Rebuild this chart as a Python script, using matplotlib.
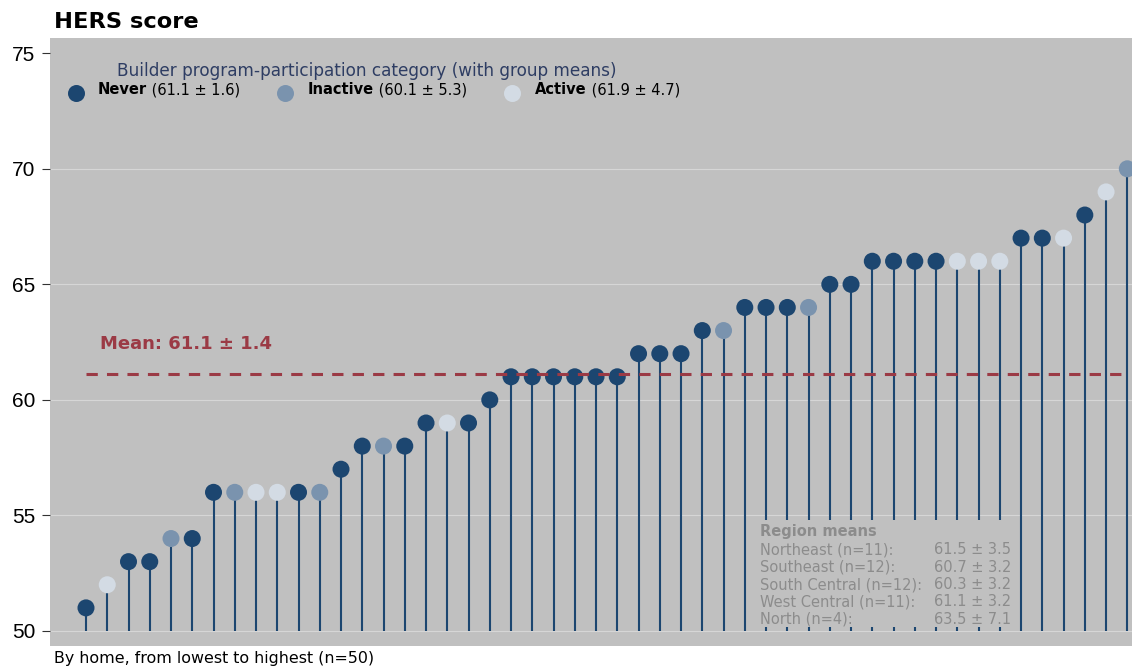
import numpy as np
import matplotlib
matplotlib.use('Agg')
import matplotlib.pyplot as plt
from matplotlib.patches import Rectangle

plt.rcParams['font.family'] = ['DejaVu Sans']

# HERS score per home, sorted low to high, with builder participation category
hers = [51, 52, 53, 53, 54, 54, 56, 56, 56, 56,
        56, 56, 57, 58, 58, 58, 59, 59, 59, 60,
        61, 61, 61, 61, 61, 61, 62, 62, 62, 63,
        63, 64, 64, 64, 64, 65, 65, 66, 66, 66,
        66, 66, 66, 66, 67, 67, 67, 68, 69, 70]
category = ['Never', 'Active', 'Never', 'Never', 'Inactive', 'Never', 'Never', 'Inactive', 'Active', 'Active',
            'Never', 'Inactive', 'Never', 'Never', 'Inactive', 'Never', 'Never', 'Active', 'Never', 'Never',
            'Never', 'Never', 'Never', 'Never', 'Never', 'Never', 'Never', 'Never', 'Never', 'Never',
            'Inactive', 'Never', 'Never', 'Never', 'Inactive', 'Never', 'Never', 'Never', 'Never', 'Never',
            'Never', 'Active', 'Active', 'Active', 'Never', 'Never', 'Active', 'Never', 'Active', 'Inactive']

groups = ['Never', 'Inactive', 'Active']
group_stats = ['(61.1 ± 1.6)', '(60.1 ± 5.3)', '(61.9 ± 4.7)']
colors = {'Never': '#1c4670', 'Inactive': '#7a93ae', 'Active': '#d3dbe4'}

overall_mean = 61.1
overall_sd = 1.4

regions = ['Northeast (n=11):', 'Southeast (n=12):', 'South Central (n=12):',
           'West Central (n=11):', 'North (n=4):']
region_stats = ['61.5 ± 3.5', '60.7 ± 3.2', '60.3 ± 3.2', '61.1 ± 3.2', '63.5 ± 7.1']

yticks = [50, 55, 60, 65, 70, 75]

bg = '#c0c0c0'
stem_col = '#1c4670'
mean_col = '#9b3a45'

fig = plt.figure(figsize=(11.32, 6.71), dpi=100)
ax = fig.add_axes([0.04417, 0.03726, 0.95583, 0.9061])
ax.set_facecolor(bg)

x = np.arange(1, len(hers) + 1)
y = np.array(hers)

# grid lines (the top one sits under the legend, so leave it out)
for g in yticks[:-1]:
    ax.axhline(g, color='#d6d6d6', linewidth=0.8, zorder=0.5)

ax.vlines(x, 50, y, color=stem_col, linewidth=1.5, zorder=2)
ax.scatter(x, y, s=150, c=[colors[c] for c in category], linewidths=0, zorder=3)

# mean line + label
ax.plot([1, 50], [overall_mean, overall_mean], color=mean_col, linewidth=2.2,
        dashes=(3.7, 3.0), zorder=4)
ax.text(1.66, 62.21, f'Mean: {overall_mean} ± {overall_sd}', color=mean_col,
        fontsize=13, fontweight='bold', va='baseline', ha='left')

ax.set_xlim(-0.694, 50.22)
ax.set_ylim(49.35, 75.66)
ax.set_yticks(yticks)
ax.set_xticks([])
for s in ax.spines.values():
    s.set_visible(False)
ax.tick_params(axis='y', length=6, width=0.8, color='#333333', pad=4.5,
               labelsize=15)
for lab in ax.get_yticklabels():
    lab.set_family('Liberation Sans')

# legend, drawn by hand
ax.text(0.0619, 0.9375, 'Builder program-participation category (with group means)',
        transform=ax.transAxes, fontsize=12.2, color='#2e3d63', va='baseline')
mk_x = [0.0236, 0.2172, 0.427]
tx_x = [0.0441, 0.2384, 0.4482]
for g, st, mx, tx in zip(groups, group_stats, mk_x, tx_x):
    ax.scatter([mx], [0.9102], s=150, color=colors[g], linewidths=0,
               transform=ax.transAxes, clip_on=False, zorder=5)
    t = ax.text(tx, 0.9079, g, transform=ax.transAxes, fontsize=10.5,
                fontweight='bold', va='baseline')
    ax.annotate(' ' + st, xy=(1, 0), xycoords=t, va='bottom', fontsize=10.5)

# region means box, covering the stems behind it
ax.add_patch(Rectangle((0.6488, 0.03125), 0.8891 - 0.6488, 0.2072 - 0.03125,
                       transform=ax.transAxes, facecolor=bg, edgecolor='none',
                       zorder=6))
reg_col = '#8c8c8c'
ax.text(0.6562, 0.1809, 'Region means', transform=ax.transAxes, fontsize=10.5,
        fontweight='bold', color=reg_col, va='baseline', zorder=7)
base = [0.1508, 0.1222, 0.0936, 0.0650, 0.0363]
for r, st, yb in zip(regions, region_stats, base):
    ax.text(0.6562, yb, r, transform=ax.transAxes, fontsize=10.5,
            color=reg_col, va='baseline', zorder=7)
    ax.text(0.8170, yb, st, transform=ax.transAxes, fontsize=10.5,
            color=reg_col, va='baseline', zorder=7)

fig.text(0.0481, 0.9578, 'HERS score', fontsize=16.2, fontweight='bold',
         va='baseline')
fig.text(0.0477, 0.0124, 'By home, from lowest to highest (n=50)', fontsize=11.4,
         va='baseline')

fig.savefig('out.png', dpi=100, facecolor='white')
